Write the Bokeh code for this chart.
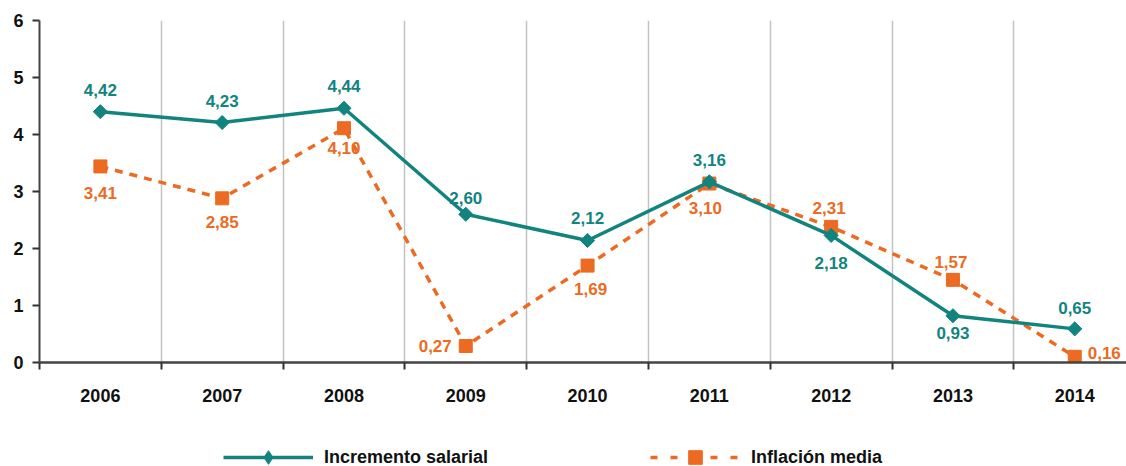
from bokeh.plotting import figure
from bokeh.layouts import column
from bokeh.models import FixedTicker, Legend, LegendItem, ColumnDataSource, Range1d
from bokeh.core.properties import value
from bokeh.embed import file_html
from bokeh.resources import INLINE
import math

# ---- data ----
years = ["2006", "2007", "2008", "2009", "2010", "2011", "2012", "2013", "2014"]
salarial = [4.40, 4.21, 4.46, 2.60, 2.14, 3.17, 2.23, 0.82, 0.59]
inflacion = [3.44, 2.88, 4.11, 0.29, 1.70, 3.14, 2.38, 1.45, 0.10]
salarial_labels = ["4,42", "4,23", "4,44", "2,60", "2,12", "3,16", "2,18", "0,93", "0,65"]
inflacion_labels = ["3,41", "2,85", "4,10", "0,27", "1,69", "3,10", "2,31", "1,57", "0,16"]
y_ticks = [0, 1, 2, 3, 4, 5, 6]
series_names = ["Incremento salarial", "Inflación media"]

# ---- label placement (styling) ----
sal_dx = [0, 0, 0, 0, 0, 0, 0, 0, 0]
sal_dy = [-22, -22, -22, -16, -23, -22, 28, 17, -21]
sal_align = ["center"] * 9
inf_dx = [0, 0, 0, -14, 3, -4, -2, -2, 13]
inf_dy = [27, 24, 20, 0, 23, 24, -19, -18, -4]
inf_align = ["center", "center", "center", "right", "center", "center", "center", "center", "left"]

TEAL = "#12847f"
ORANGE = "#ec6a22"
FONT = "Liberation Sans"

xs = [i + 0.5 for i in range(len(years))]
boundaries = list(range(len(years) + 1))

p = figure(width=1126, height=410, output_backend="svg", toolbar_location=None,
           x_range=Range1d(0, 8.925), y_range=Range1d(0, 6),
           min_border_left=39, min_border_top=20, min_border_right=0, min_border_bottom=48)
p.outline_line_color = None
p.background_fill_color = "white"

# grid
p.ygrid.visible = False
p.xgrid.ticker = FixedTicker(ticks=boundaries[1:])
p.xgrid.grid_line_color = "#c2c2c2"
p.xgrid.grid_line_width = 1.5

# x axis
xa = p.xaxis[0]
xa.ticker = FixedTicker(ticks=xs, minor_ticks=boundaries)
xa.major_label_overrides = {x: y for x, y in zip(xs, years)}
xa.major_tick_out = 0
xa.major_tick_in = 0
xa.minor_tick_out = 7
xa.minor_tick_in = 0
xa.minor_tick_line_color = "#333333"
xa.minor_tick_line_width = 2
xa.axis_line_color = "#444444"
xa.axis_line_width = 2.5
xa.major_label_standoff = 19
xa.major_label_text_font = FONT
xa.major_label_text_font_style = "bold"
xa.major_label_text_font_size = "18px"
xa.major_label_text_color = "#111111"

# y axis
ya = p.yaxis[0]
ya.ticker = FixedTicker(ticks=y_ticks)
ya.major_tick_out = 7
ya.major_tick_in = 0
ya.major_tick_line_color = "#333333"
ya.major_tick_line_width = 2
ya.minor_tick_out = 0
ya.minor_tick_in = 0
ya.axis_line_color = "#444444"
ya.axis_line_width = 2
ya.major_label_standoff = 9
ya.major_label_text_font = FONT
ya.major_label_text_font_style = "bold"
ya.major_label_text_font_size = "18px"
ya.major_label_text_color = "#111111"

sal_src = ColumnDataSource(dict(x=xs, y=salarial, t=salarial_labels, dx=sal_dx, dy=sal_dy, al=sal_align))
inf_src = ColumnDataSource(dict(x=xs, y=inflacion, t=inflacion_labels, dx=inf_dx, dy=inf_dy, al=inf_align))

p.line("x", "y", source=inf_src, line_color=ORANGE, line_width=3.5, line_dash="8 7")
p.scatter("x", "y", source=inf_src, marker="square", size=13, fill_color=ORANGE, line_color=ORANGE)

p.line("x", "y", source=sal_src, line_color=TEAL, line_width=3.5)
p.scatter("x", "y", source=sal_src, marker="square", size=10, angle=math.pi / 4,
          fill_color=TEAL, line_color=TEAL)

p.text("x", "y", text="t", source=sal_src, x_offset="dx", y_offset="dy", text_align="al",
       text_baseline="middle", text_color=TEAL, text_font=value(FONT), text_font_style="bold",
       text_font_size="17px")
p.text("x", "y", text="t", source=inf_src, x_offset="dx", y_offset="dy", text_align="al",
       text_baseline="middle", text_color=ORANGE, text_font=value(FONT), text_font_style="bold",
       text_font_size="17px")

# ---- legend strip (series re-drawn outside its visible range, only the legend shows) ----
lg = figure(width=1126, height=56, output_backend="svg", toolbar_location=None,
            x_axis_location=None, y_axis_location=None,
            x_range=Range1d(0, 1), y_range=Range1d(100, 101),
            min_border_left=0, min_border_top=0, min_border_right=0, min_border_bottom=0)
lg.grid.visible = False
lg.outline_line_color = None

l1 = lg.line("x", "y", source=sal_src, line_color=TEAL, line_width=3.5)
m1 = lg.scatter("x", "y", source=sal_src, marker="diamond", size=14, fill_color=TEAL, line_color=TEAL)
l2 = lg.line("x", "y", source=inf_src, line_color=ORANGE, line_width=3.5, line_dash="7 13")
m2 = lg.scatter("x", "y", source=inf_src, marker="square", size=13, fill_color=ORANGE, line_color=ORANGE)

legend = Legend(items=[LegendItem(label=series_names[0], renderers=[l1, m1]),
                       LegendItem(label=series_names[1], renderers=[l2, m2])],
                location=(184, -8), orientation="horizontal",
                glyph_width=90, glyph_height=34, label_standoff=11, spacing=162,
                padding=0, margin=0, border_line_color=None, background_fill_alpha=0,
                label_text_font=FONT, label_text_font_style="bold", label_text_font_size="18px",
                label_text_color="#111111")
lg.add_layout(legend, "center")

layout = column(p, lg, spacing=0)
open("out.html", "w").write(file_html(layout, INLINE))
